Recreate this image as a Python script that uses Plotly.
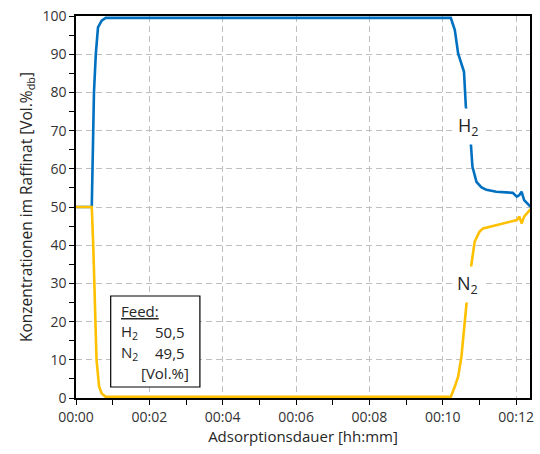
import plotly.graph_objects as go

# Time in minutes
t_h2 = [0, 0.43, 0.47, 0.49, 0.54, 0.60, 0.70, 0.81, 10.22, 10.33, 10.42, 10.51, 10.58, 10.63,
        10.77, 10.81, 10.92, 11.05, 11.19, 11.46, 11.64, 11.91, 12.02, 12.09, 12.15, 12.22, 12.39]
h2 = [50, 50, 70, 80, 90, 97, 98.8, 99.5, 99.5, 96.3, 90.2, 87.2, 85.4, 76.4,
      66.2, 60.6, 56.6, 55.2, 54.5, 54.0, 53.8, 53.7, 52.7, 53.1, 54.0, 51.8, 50.1]

t_n2 = [0, 0.43, 0.47, 0.50, 0.56, 0.63, 0.70, 0.81, 10.22, 10.33, 10.42, 10.51, 10.58, 10.65,
        10.78, 10.87, 11.0, 11.1, 11.37, 11.64, 11.91, 12.02, 12.09, 12.15, 12.22, 12.39]
n2 = [50, 50, 40, 30, 10, 3, 1.2, 0.3, 0.3, 3.0, 5.6, 10.8, 17.8, 24.8,
      34.8, 40.9, 43.5, 44.4, 45.0, 45.7, 46.2, 46.6, 47.5, 45.7, 47.5, 49.4]

x_tickvals = [0, 2, 4, 6, 8, 10, 12]
x_ticktext = ["00:00", "00:02", "00:04", "00:06", "00:08", "00:10", "00:12"]

BLUE = "#0070C0"
YELLOW = "#FFC000"
FONT = "Open Sans"
TXT = "#262626"

fig = go.Figure()
fig.add_trace(go.Scatter(x=t_h2, y=h2, mode="lines", line=dict(color=BLUE, width=2.6), showlegend=False))
fig.add_trace(go.Scatter(x=t_n2, y=n2, mode="lines", line=dict(color=YELLOW, width=2.6), showlegend=False))

grid = dict(showgrid=True, gridcolor="#BFBFBF", gridwidth=1, griddash="6px,4px")

fig.update_layout(
    width=540, height=454,
    margin=dict(l=76, r=6, t=16, b=56),
    paper_bgcolor="white", plot_bgcolor="white",
    font=dict(family=FONT, size=14, color=TXT),
    xaxis=dict(range=[0, 12.38], tickvals=x_tickvals, ticktext=x_ticktext,
               ticks="outside", ticklen=5, tickcolor="black", tickwidth=1,
               tickfont=dict(size=14, color="#333333"),
               minor=dict(dtick=1, tick0=0, ticks="outside", ticklen=5, tickcolor="black", showgrid=False),
               showline=True, linecolor="black", linewidth=1.5, mirror=True,
               zeroline=False,
               title=dict(text="Adsorptionsdauer [hh:mm]", font=dict(size=15, color=TXT), standoff=4),
               **grid),
    yaxis=dict(range=[0, 100], tickvals=[0, 10, 20, 30, 40, 50, 60, 70, 80, 90, 100],
               ticks="outside", ticklen=5, tickcolor="black", tickwidth=1,
               tickfont=dict(size=14, color="#333333"),
               minor=dict(dtick=5, tick0=0, ticks="outside", ticklen=5, tickcolor="black", showgrid=False),
               showline=True, linecolor="black", linewidth=1.5, mirror=True,
               zeroline=False,
               title=dict(text="Konzentrationen im Raffinat [Vol.%<sub>db</sub>]", font=dict(size=15.5, color=TXT), standoff=6),
               **grid),
)

# Curve labels
fig.add_annotation(x=10.68, y=71.2, text="H<sub>2</sub>", showarrow=False, bgcolor="white",
                   font=dict(size=18, color=TXT), borderpad=4)
fig.add_annotation(x=10.68, y=29.8, text="N<sub>2</sub>", showarrow=False, bgcolor="white",
                   font=dict(size=18, color=TXT), borderpad=4)

# Feed box
def px(xp):
    return (xp - 76) / 458

def py(yp):
    return (398 - yp) / 382

fig.add_shape(type="rect", xref="paper", yref="paper",
              x0=px(111), x1=px(201), y0=py(387), y1=py(296),
              line=dict(color="black", width=1.2), fillcolor="white", layer="above")

fs = 15
fig.add_annotation(xref="paper", yref="paper", x=px(119), y=py(311), text="<u>Feed:</u>",
                   showarrow=False, xanchor="left", yanchor="middle", font=dict(size=fs, color=TXT))
fig.add_annotation(xref="paper", yref="paper", x=px(119), y=py(332), text="H<sub>2</sub>",
                   showarrow=False, xanchor="left", yanchor="middle", font=dict(size=fs, color=TXT))
fig.add_annotation(xref="paper", yref="paper", x=px(188), y=py(332), text="50,5",
                   showarrow=False, xanchor="right", yanchor="middle", font=dict(size=fs, color=TXT))
fig.add_annotation(xref="paper", yref="paper", x=px(119), y=py(353), text="N<sub>2</sub>",
                   showarrow=False, xanchor="left", yanchor="middle", font=dict(size=fs, color=TXT))
fig.add_annotation(xref="paper", yref="paper", x=px(188), y=py(353), text="49,5",
                   showarrow=False, xanchor="right", yanchor="middle", font=dict(size=fs, color=TXT))
fig.add_annotation(xref="paper", yref="paper", x=px(192), y=py(373), text="[Vol.%]",
                   showarrow=False, xanchor="right", yanchor="middle", font=dict(size=fs, color=TXT))

fig.write_html("out.html")
